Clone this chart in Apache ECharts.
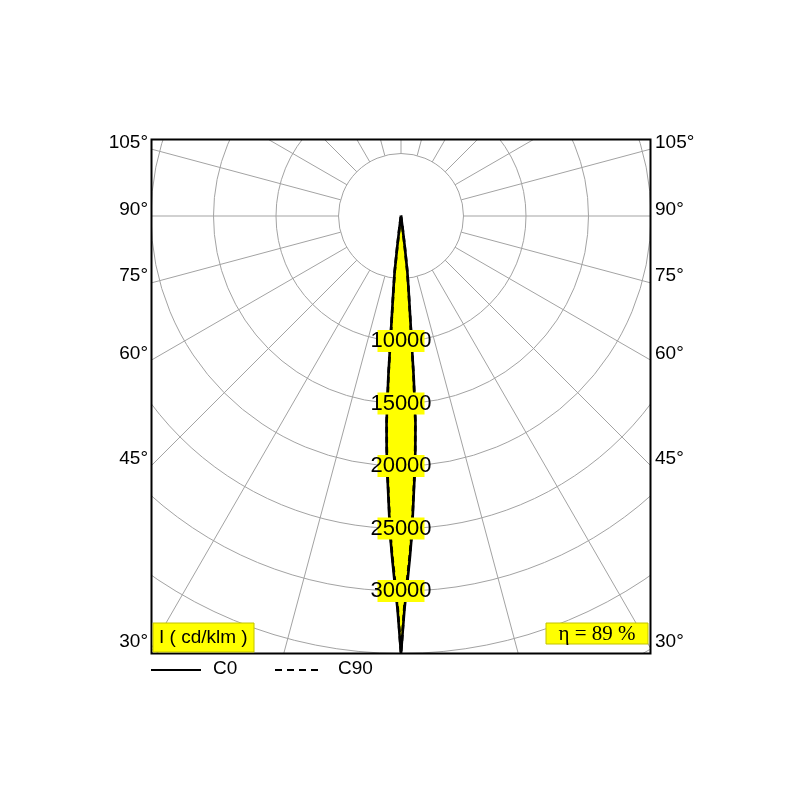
<!DOCTYPE html>
<html><head><meta charset="utf-8">
<script src="https://cdn.jsdelivr.net/npm/echarts@6/dist/echarts.min.js"></script>
<style>html,body{margin:0;padding:0;background:#fff}#c{width:800px;height:800px}</style>
</head><body><div id="c"></div>
<script>
// ---- data ----
const gammaDeg  = [0, 0.5, 1, 1.5, 2, 2.5, 3, 3.5, 4, 4.5, 5, 5.5, 6, 6.5, 7, 7.5, 8, 9, 10, 15, 20, 30, 45, 60, 75, 90];
const c0Values  = [35000, 31500, 29300, 27300, 25300, 22800, 20800, 18800, 16600, 13000, 9200, 7000, 5600, 4500, 2500, 1000, 300, 100, 60, 30, 20, 10, 5, 0, 0, 0];
const c90Values = [35000, 31200, 29000, 27100, 25100, 22600, 20600, 18600, 16400, 12800, 9000, 6900, 5500, 4400, 2400, 950, 280, 90, 55, 30, 20, 10, 5, 0, 0, 0];
const ringLabels  = [10000, 15000, 20000, 25000, 30000];
const angleLabels = [105, 90, 75, 60, 45, 30];
const legendNames = ['C0', 'C90'];
const unitLabel = 'I ( cd/klm )';
const efficiencyLabel = 'η = 89 %';

// ---- layout ----
const CX = 401, CY = 216, SCALE = 0.0125, RMIN = 5000, RMAX = 41000, RSTEP = 5000;
const BOX = {l: 151.5, r: 650.5, t: 139.5, b: 653.5};
const YELLOW = '#ffff00';
const GRID = '#a3a3a3';
const SANS = '"Liberation Sans", Arial, sans-serif';

function mirror(vals) {
  const pts = [];
  for (let i = gammaDeg.length - 1; i >= 0; i--) pts.push([vals[i], -gammaDeg[i]]);
  for (let i = 1; i < gammaDeg.length; i++) pts.push([vals[i], gammaDeg[i]]);
  return pts;
}

const chart = echarts.init(document.getElementById('c'), null, {renderer: 'canvas'});

const graphics = [];
// white masks outside the frame
graphics.push({type: 'rect', z: 100, shape: {x: 0, y: 0, width: 800, height: BOX.t - 0.5}, style: {fill: '#fff'}});
graphics.push({type: 'rect', z: 100, shape: {x: 0, y: BOX.b + 0.5, width: 800, height: 800}, style: {fill: '#fff'}});
graphics.push({type: 'rect', z: 100, shape: {x: 0, y: 0, width: BOX.l - 0.5, height: 800}, style: {fill: '#fff'}});
graphics.push({type: 'rect', z: 100, shape: {x: BOX.r + 0.5, y: 0, width: 200, height: 800}, style: {fill: '#fff'}});
// frame
graphics.push({type: 'rect', z: 110, shape: {x: BOX.l, y: BOX.t, width: BOX.r - BOX.l, height: BOX.b - BOX.t},
  style: {fill: null, stroke: '#000', lineWidth: 2}});
// angle labels where radial lines meet the frame
angleLabels.forEach(a => {
  const rad = a * Math.PI / 180;
  const dxL = CX - BOX.l;
  const y = CY + dxL / Math.tan(rad);
  const font = '19px ' + SANS;
  graphics.push({type: 'text', z: 120, x: BOX.l - 3.5, y: y - 6.6, style: {text: a + '°', font, fill: '#000', align: 'right', verticalAlign: 'middle'}});
  graphics.push({type: 'text', z: 120, x: BOX.r + 4.5, y: y - 6.6, style: {text: a + '°', font, fill: '#000', align: 'left', verticalAlign: 'middle'}});
});
// legend
graphics.push({type: 'line', z: 120, shape: {x1: 151, y1: 670, x2: 201, y2: 670}, style: {stroke: '#000', lineWidth: 2}});
graphics.push({type: 'text', z: 120, x: 213, y: 669, style: {text: legendNames[0], font: '19px ' + SANS, fill: '#000', align: 'left', verticalAlign: 'middle'}});
graphics.push({type: 'line', z: 120, shape: {x1: 275, y1: 670, x2: 319, y2: 670}, style: {stroke: '#000', lineWidth: 2, lineDash: [7, 5]}});
graphics.push({type: 'text', z: 120, x: 338, y: 669, style: {text: legendNames[1], font: '19px ' + SANS, fill: '#000', align: 'left', verticalAlign: 'middle'}});
// unit box
graphics.push({type: 'rect', z: 115, shape: {x: 153, y: 623, width: 101, height: 29}, style: {fill: YELLOW, stroke: '#c2c200', lineWidth: 1}});
graphics.push({type: 'text', z: 120, x: 159, y: 638, style: {text: unitLabel, font: '19px ' + SANS, fill: '#000', align: 'left', verticalAlign: 'middle'}});
// efficiency box
graphics.push({type: 'rect', z: 115, shape: {x: 546, y: 623, width: 102, height: 21}, style: {fill: YELLOW, stroke: '#c2c200', lineWidth: 1}});
graphics.push({type: 'text', z: 120, x: 597, y: 634, style: {text: efficiencyLabel, font: '21px "Liberation Serif", "Times New Roman", serif', fill: '#000', align: 'center', verticalAlign: 'middle'}});

function outlineSeries(name, vals, dash, z) {
  return {
    name, type: 'custom', coordinateSystem: 'polar', silent: true, z,
    data: [[0, 0]],
    renderItem: function (params, api) {
      const pts = mirror(vals).map(p => api.coord(p));
      return {type: 'polyline', shape: {points: pts},
        style: {fill: null, stroke: '#000', lineWidth: 2.6, lineDash: dash, lineJoin: 'round'}};
    }
  };
}

const option = {
  animation: false,
  backgroundColor: '#fff',
  polar: {center: [CX, CY], radius: [RMIN * SCALE, RMAX * SCALE]},
  angleAxis: {
    type: 'value', min: 0, max: 360, interval: 15, startAngle: 270, clockwise: true,
    axisLine: {show: false}, axisTick: {show: false}, axisLabel: {show: false},
    splitLine: {show: true, lineStyle: {color: GRID, width: 1}}
  },
  radiusAxis: {
    type: 'value', min: RMIN, max: RMAX, interval: RSTEP,
    axisLine: {show: false}, axisTick: {show: false}, axisLabel: {show: false},
    splitLine: {show: true, lineStyle: {color: GRID, width: 1}}
  },
  series: [
    {
      type: 'custom', coordinateSystem: 'polar', silent: true, z: 2,
      data: [[0, 0]],
      renderItem: function (params, api) {
        const pts = mirror(c0Values).map(p => api.coord(p));
        return {type: 'polygon', shape: {points: pts}, style: {fill: YELLOW}};
      }
    },
    outlineSeries(legendNames[0], c0Values, null, 3),
    outlineSeries(legendNames[1], c90Values, [6, 4], 4),
    {
      type: 'custom', coordinateSystem: 'polar', silent: true, z: 10,
      data: ringLabels.map(v => [v, 0]),
      renderItem: function (params, api) {
        const p = api.coord([api.value(0), api.value(1)]);
        return {
          type: 'group',
          children: [
            {type: 'rect', shape: {x: p[0] - 23.5, y: p[1] - 11, width: 47, height: 22}, style: {fill: YELLOW}},
            {type: 'text', x: p[0], y: p[1], style: {text: String(api.value(0)), font: '22px ' + SANS, fill: '#000', align: 'center', verticalAlign: 'middle'}}
          ]
        };
      }
    }
  ],
  graphic: {elements: graphics}
};
chart.setOption(option);
</script>
</body></html>
